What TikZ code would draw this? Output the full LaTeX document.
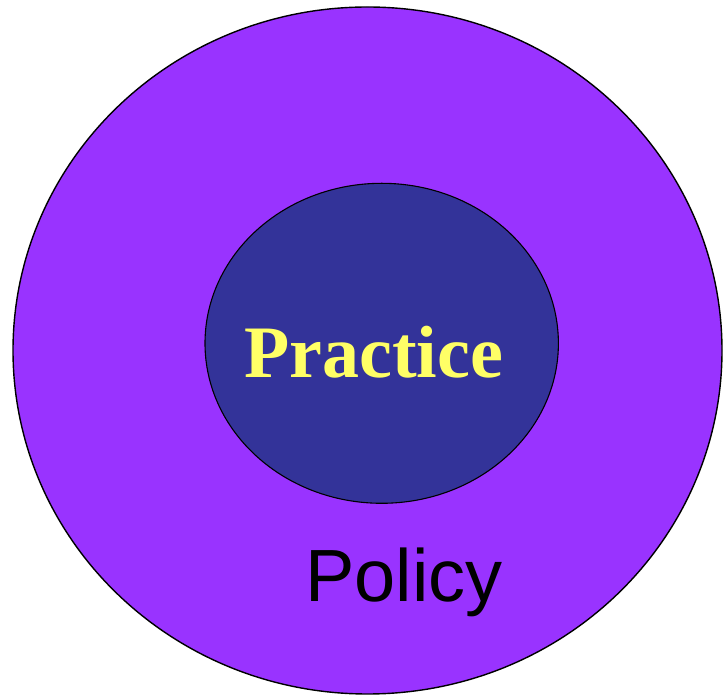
\documentclass[tikz,border=0pt]{standalone}
\usepackage{fontspec}
\setmainfont{Liberation Serif}
\newfontfamily\arialfont{Liberation Sans}
\definecolor{outerpurple}{HTML}{9933FF}
\definecolor{innerblue}{HTML}{333399}
\definecolor{textyellow}{HTML}{FFFF66}
\begin{document}
\begin{tikzpicture}[x=1pt,y=1pt,
  ring/.style={draw=black,line width=1.4pt},
  label/.style={inner sep=0pt,anchor=base west}]
\useasboundingbox (0,0) rectangle (723,696);
\fill[outerpurple] (367.5,345.5) ellipse [x radius=354.5, y radius=343.5];
\draw[ring] (367.5,345.5) ellipse [x radius=354.5, y radius=343.5];
\fill[innerblue] (381.7,352.7) ellipse [x radius=176.7, y radius=160];
\draw[black,line width=1.1pt] (381.7,352.7) ellipse [x radius=176.7, y radius=160];
\node[label,text=textyellow,font={\fontsize{74}{80}\selectfont\bfseries}] (practice) at (244,318.7) {Practice};
\node[label,text=black,font={\arialfont\fontsize{74}{80}\selectfont}] (policy) at (305,94.3) {Policy};
\end{tikzpicture}
\end{document}
